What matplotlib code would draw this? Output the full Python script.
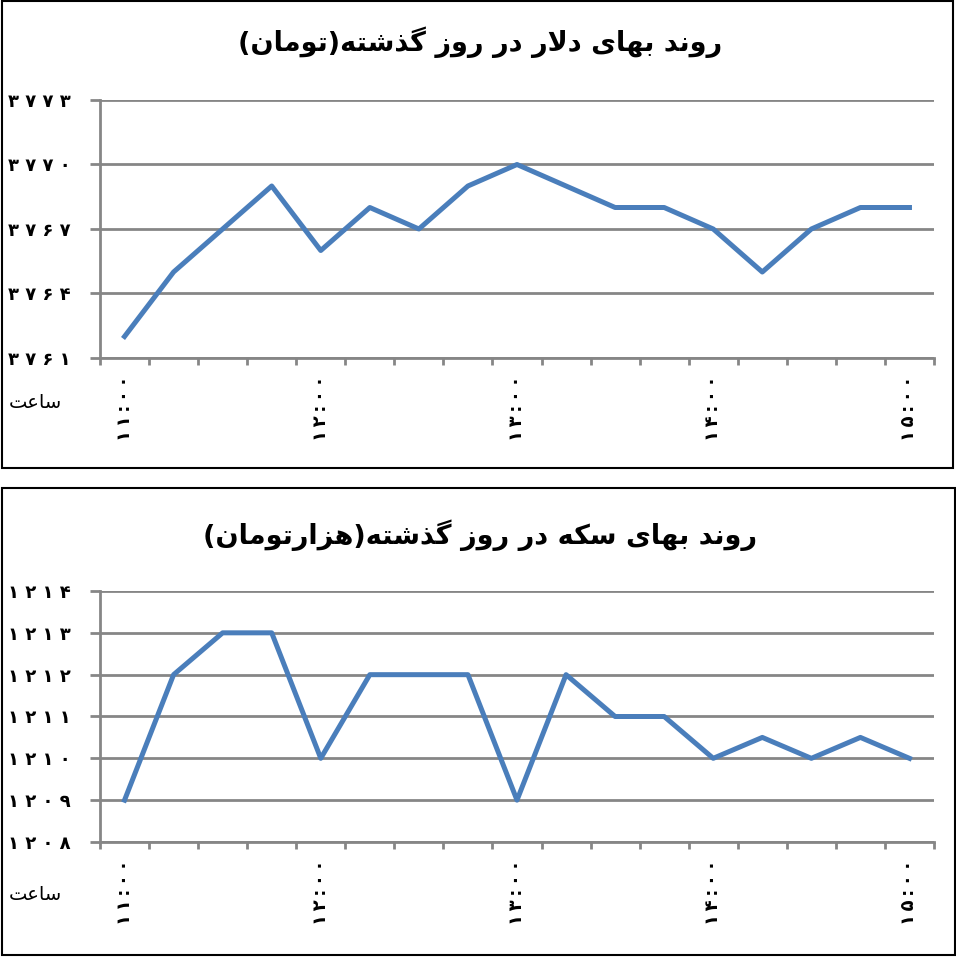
import numpy as np
import matplotlib
matplotlib.use('Agg')
import matplotlib.pyplot as plt
from matplotlib.patches import Rectangle

plt.rcParams['font.family'] = ['DejaVu Sans']

# data
times = ['11:00', '12:00', '13:00', '14:00', '15:00']
dollar = [3762, 3765, 3767, 3769, 3766, 3768, 3767, 3769, 3770, 3769,
          3768, 3768, 3767, 3765, 3767, 3768, 3768]
coin = [1209, 1212, 1213, 1213, 1210, 1212, 1212, 1212, 1209, 1212,
        1211, 1211, 1210, 1210.5, 1210, 1210.5, 1210]
dollar_ticks = [3761, 3764, 3767, 3770, 3773]
coin_ticks = [1208, 1209, 1210, 1211, 1212, 1213, 1214]
title_dollar = 'روند بهای دلار در روز گذشته(تومان)'
title_coin = 'روند بهای سکه در روز گذشته(هزارتومان)'
hour_label = 'ساعت'

# persian text -> presentation forms in visual order (matplotlib has no shaping)
FORMS = {
    'ا': ('\ufe8d', '\ufe8e', None, None),
    'ب': ('\ufe8f', '\ufe90', '\ufe91', '\ufe92'),
    'ت': ('\ufe95', '\ufe96', '\ufe97', '\ufe98'),
    'د': ('\ufea9', '\ufeaa', None, None),
    'ذ': ('\ufeab', '\ufeac', None, None),
    'ر': ('\ufead', '\ufeae', None, None),
    'ز': ('\ufeaf', '\ufeb0', None, None),
    'س': ('\ufeb1', '\ufeb2', '\ufeb3', '\ufeb4'),
    'ش': ('\ufeb5', '\ufeb6', '\ufeb7', '\ufeb8'),
    'ع': ('\ufec9', '\ufeca', '\ufecb', '\ufecc'),
    'ل': ('\ufedd', '\ufede', '\ufedf', '\ufee0'),
    'م': ('\ufee1', '\ufee2', '\ufee3', '\ufee4'),
    'ن': ('\ufee5', '\ufee6', '\ufee7', '\ufee8'),
    'ه': ('\ufee9', '\ufeea', '\ufeeb', '\ufeec'),
    'و': ('\ufeed', '\ufeee', None, None),
    'ک': ('\ufb8e', '\ufb8f', '\ufb90', '\ufb91'),
    'گ': ('\ufb92', '\ufb93', '\ufb94', '\ufb95'),
    'ی': ('\ufbfc', '\ufbfd', '\ufbfe', '\ufbff'),
}


def joins_left(c):
    return c in FORMS and FORMS[c][2] is not None


def shape(s):
    out = []
    i = 0
    n = len(s)
    while i < n:
        c = s[i]
        if c not in FORMS:
            out.append(c)
            i += 1
            continue
        jp = i > 0 and joins_left(s[i - 1])
        if c == 'ل' and i + 1 < n and s[i + 1] == 'ا':
            out.append('\ufefc' if jp else '\ufefb')
            i += 2
            continue
        jn = joins_left(c) and i + 1 < n and s[i + 1] in FORMS
        iso, fin, ini, med = FORMS[c]
        if jp and jn:
            out.append(med)
        elif jp:
            out.append(fin)
        elif jn:
            out.append(ini)
        else:
            out.append(iso)
        i += 1
    vis = ''.join(reversed(out))
    return vis.translate(str.maketrans('()', ')('))


fa = str.maketrans('0123456789', '۰۱۲۳۴۵۶۷۸۹')
W, H = 956, 957
grid_c = '#868686'
line_c = '#4A7EBB'

fig = plt.figure(figsize=(W / 100, H / 100), dpi=100)

# panel frames
fig.add_artist(Rectangle((2 / W, 1 - 468 / H), 951 / W, 467 / H, transform=fig.transFigure,
                         fill=False, ec='black', lw=1.5))
fig.add_artist(Rectangle((2 / W, 1 - 955 / H), 953 / W, 467 / H, transform=fig.transFigure,
                         fill=False, ec='black', lw=1.5))


def panel(top, bottom, values, yticks, title, title_y, lab_y):
    ax = fig.add_axes([100 / W, 1 - bottom / H, 834 / W, (bottom - top) / H])
    x = np.arange(len(values))
    ax.plot(x, values, color=line_c, lw=3.6, zorder=3)
    ax.set_xlim(-0.5, len(values) - 0.5)
    ax.set_ylim(yticks[0], yticks[-1])
    ax.set_yticks(yticks)
    ax.set_yticklabels([' '.join(str(t).translate(fa)) for t in yticks],
                       fontsize=13, fontweight='bold')
    ax.yaxis.grid(True, color=grid_c, lw=2)
    ax.set_axisbelow(True)
    for s in ['top', 'right']:
        ax.spines[s].set_visible(False)
    for s in ['left', 'bottom']:
        ax.spines[s].set_color(grid_c)
        ax.spines[s].set_linewidth(2)
    ax.tick_params(axis='y', length=7, width=2, color=grid_c, pad=14)
    ax.set_xticks(np.arange(-0.5, len(values)), minor=True)
    ax.tick_params(axis='x', which='minor', length=5, width=2, color=grid_c)
    ax.set_xticks(x[::4])
    ax.set_xticklabels(['\u2009'.join(t.translate(fa)) for t in times], rotation=90,
                       fontsize=13, fontweight='bold')
    ax.tick_params(axis='x', which='major', length=0, pad=13)
    fig.text(480 / W, 1 - title_y / H, shape(title), ha='center', va='center',
             fontsize=19.5, fontweight='bold')
    fig.text(62 / W, 1 - lab_y / H, shape(hour_label), ha='right', va='center',
             fontsize=14)
    return ax


panel(100, 358, dollar, dollar_ticks, title_dollar, 42, 403)
panel(591, 842, coin, coin_ticks, title_coin, 535, 895)

fig.savefig('out.png', dpi=100)
